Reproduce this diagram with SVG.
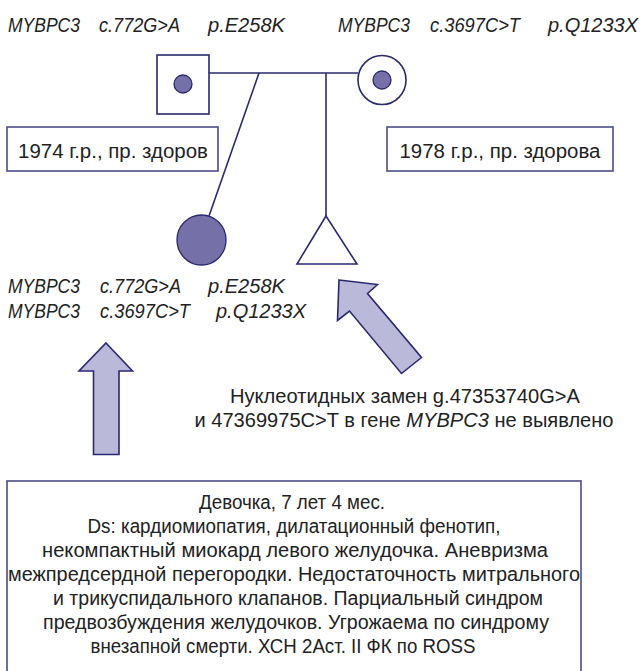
<svg xmlns="http://www.w3.org/2000/svg" width="641" height="671" viewBox="0 0 641 671">
<defs>
<style>
.ln{stroke:#29296e;stroke-width:1.6;fill:none}
.sym{stroke:#29296e;stroke-width:1.6;fill:#fff}
.dot{stroke:#29296e;stroke-width:1.3;fill:#7571a8}
.arr{stroke:#29296e;stroke-width:1.6;fill:#bab9d9;stroke-linejoin:miter}
.box{stroke:#4b4b8a;stroke-width:1.6;fill:#fff}
.t{font-family:"Liberation Sans",Arial,sans-serif;fill:#222;font-size:20px}
.g{font-size:20px;font-style:italic}
.it{font-style:italic}
.c{text-anchor:middle}
</style>
</defs>
<rect width="641" height="671" fill="#fff"/>
<g id="labels-top" class="t g">
<text x="8" y="32" textLength="72" lengthAdjust="spacingAndGlyphs">MYBPC3</text>
<text x="99" y="32" textLength="81" lengthAdjust="spacingAndGlyphs">c.772G&gt;A</text>
<text x="208" y="32" textLength="77" lengthAdjust="spacingAndGlyphs">p.E258K</text>
<text x="338" y="32" textLength="72" lengthAdjust="spacingAndGlyphs">MYBPC3</text>
<text x="430" y="32" textLength="90" lengthAdjust="spacingAndGlyphs">c.3697C&gt;T</text>
<text x="548" y="32" textLength="90" lengthAdjust="spacingAndGlyphs">p.Q1233X</text>
</g>
<g id="connectors">
<line class="ln" x1="209" y1="73" x2="358" y2="73"/>
<line class="ln" x1="326" y1="73" x2="326" y2="216"/>
<line class="ln" x1="259" y1="73" x2="209" y2="216"/>
</g>
<g id="father">
<rect class="sym" x="157" y="55" width="52" height="59"/>
<circle class="dot" cx="183" cy="84" r="9"/>
</g>
<g id="mother">
<ellipse class="sym" cx="382" cy="80" rx="24" ry="24.5"/>
<circle class="dot" cx="382" cy="80" r="9"/>
</g>
<g id="proband">
<ellipse class="dot" cx="201.5" cy="240" rx="24.5" ry="25" stroke-width="1.6"/>
</g>
<g id="sibling">
<polygon class="sym" points="326,216 297,264 357,264"/>
</g>
<g id="father-label">
<rect class="box" x="7" y="127" width="211" height="44"/>
<text class="t c" x="113" y="158" textLength="190" lengthAdjust="spacingAndGlyphs">1974 г.р., пр. здоров</text>
</g>
<g id="mother-label">
<rect class="box" x="387" y="127" width="226" height="44"/>
<text class="t c" x="500" y="158" textLength="201" lengthAdjust="spacingAndGlyphs">1978 г.р., пр. здорова</text>
</g>
<g id="proband-genotype" class="t g">
<text x="8" y="293" textLength="72" lengthAdjust="spacingAndGlyphs">MYBPC3</text>
<text x="100" y="293" textLength="81" lengthAdjust="spacingAndGlyphs">c.772G&gt;A</text>
<text x="208" y="293" textLength="77" lengthAdjust="spacingAndGlyphs">p.E258K</text>
<text x="8" y="318" textLength="72" lengthAdjust="spacingAndGlyphs">MYBPC3</text>
<text x="100" y="318" textLength="90" lengthAdjust="spacingAndGlyphs">c.3697C&gt;T</text>
<text x="216" y="318" textLength="90" lengthAdjust="spacingAndGlyphs">p.Q1233X</text>
</g>
<g id="arrow-sibling">
<polygon class="arr" points="339,280 377.5,284.5 367.5,293.5 421.5,357.5 401.5,373.5 349.5,311 337.5,320.5"/>
</g>
<g id="sibling-note">
<text class="t c" x="405" y="403" textLength="350" lengthAdjust="spacingAndGlyphs">Нуклеотидных замен g.47353740G&gt;A</text>
<text class="t c" x="404" y="427" textLength="419" lengthAdjust="spacingAndGlyphs">и 47369975C&gt;T в гене <tspan class="it">MYBPC3</tspan> не выявлено</text>
</g>
<g id="arrow-proband">
<polygon class="arr" points="106,343 132.5,371 119,371 119,454.5 93.5,454.5 93.5,371 79,371"/>
</g>
<g id="proband-info">
<rect class="box" x="7" y="481" width="574" height="196"/>
<text class="t c" x="292" y="509" textLength="186" lengthAdjust="spacingAndGlyphs">Девочка, 7 лет 4 мес.</text>
<text class="t c" x="294" y="533" textLength="413" lengthAdjust="spacingAndGlyphs">Ds: кардиомиопатия, дилатационный фенотип,</text>
<text class="t c" x="295" y="557" textLength="506" lengthAdjust="spacingAndGlyphs">некомпактный миокард левого желудочка. Аневризма</text>
<text class="t c" x="294" y="581" textLength="572" lengthAdjust="spacingAndGlyphs">межпредсердной перегородки. Недостаточность митрального</text>
<text class="t c" x="298" y="605" textLength="490" lengthAdjust="spacingAndGlyphs">и трикуспидального клапанов. Парциальный синдром</text>
<text class="t c" x="296" y="629" textLength="506" lengthAdjust="spacingAndGlyphs">предвозбуждения желудочков. Угрожаема по синдрому</text>
<text class="t c" x="283" y="653" textLength="385" lengthAdjust="spacingAndGlyphs">внезапной смерти. ХСН 2Аст. II ФК по ROSS</text>
</g>
</svg>
